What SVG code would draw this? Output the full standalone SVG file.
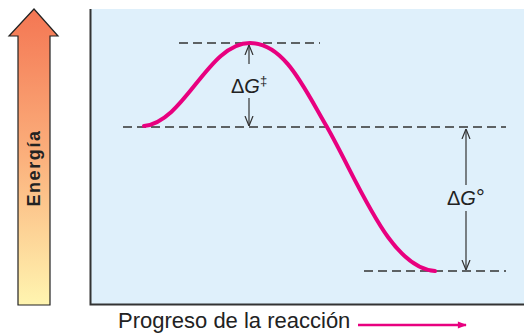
<svg xmlns="http://www.w3.org/2000/svg" width="524" height="335" viewBox="0 0 524 335">
<defs>
<linearGradient id="eg" x1="0" y1="0" x2="0" y2="1">
<stop offset="0" stop-color="#f47653"/>
<stop offset="0.5" stop-color="#fbb07c"/>
<stop offset="1" stop-color="#fff5b0"/>
</linearGradient>
<marker id="ah" viewBox="0 0 10 10" refX="10" refY="5" markerWidth="10" markerHeight="10" markerUnits="userSpaceOnUse" orient="auto">
<path d="M0,1 L10,5 L0,9" fill="none" stroke="#333" stroke-width="1.2"/>
</marker>
<marker id="ph" viewBox="0 0 10 10" refX="9" refY="5" markerWidth="12" markerHeight="9" markerUnits="userSpaceOnUse" orient="auto">
<path d="M0,1 L10,5 L0,9 Z" fill="#e8007f"/>
</marker>
</defs>
<style>
.dash{stroke:#333;stroke-width:1.4;stroke-dasharray:9,5;fill:none}
.lbl{font-family:"Liberation Sans",Arial,sans-serif;font-size:20px;fill:#222}
.dim{stroke:#333;stroke-width:1.2;fill:none}
</style>
<g id="axis-energy">
<path d="M18,305 L18,36 L9,36 L34,9 L58,36 L50,36 L50,305 Z" fill="url(#eg)" stroke="#222" stroke-width="1.2"/>
<text transform="translate(40,168) rotate(-90)" text-anchor="middle" font-family="Liberation Sans,Arial,sans-serif" font-weight="bold" font-size="18" fill="#222" letter-spacing="1.6">Energía</text>
</g>
<g id="panel">
<rect x="90" y="9" width="434" height="296" fill="#dff0fb"/>
<path d="M90.5,9 L90.5,304.5 L524,304.5" fill="none" stroke="#333" stroke-width="2"/>
</g>
<g id="levels">
<line class="dash" x1="179" y1="43" x2="320" y2="43"/>
<line class="dash" x1="123" y1="127" x2="506" y2="127"/>
<line class="dash" x1="364" y1="271" x2="506" y2="271"/>
</g>
<g id="curve">
<path d="M144,126 C185,122 208,43 250,43 C285,43 305,90 327,127 C360,185 390,268 435,271" fill="none" stroke="#e8007f" stroke-width="4" stroke-linecap="round"/>
</g>
<g id="connectors">
<line class="dim" x1="249" y1="64" x2="249" y2="45" marker-end="url(#ah)"/>
<line class="dim" x1="249" y1="98" x2="249" y2="126" marker-end="url(#ah)"/>
<line class="dim" x1="466" y1="185" x2="466" y2="129" marker-end="url(#ah)"/>
<line class="dim" x1="466" y1="211" x2="466" y2="270" marker-end="url(#ah)"/>
<line x1="358" y1="325" x2="466" y2="325" stroke="#e8007f" stroke-width="2.5" marker-end="url(#ph)"/>
</g>
<g id="dg-act">
<text class="lbl" x="231" y="93">Δ<tspan font-style="italic">G</tspan><tspan style="font-size:13px" dy="-8">‡</tspan></text>
</g>
<g id="dg-std">
<text class="lbl" x="447" y="205">Δ<tspan font-style="italic">G</tspan><tspan style="font-size:22px">°</tspan></text>
</g>
<g id="xlabel">
<text class="lbl" x="118" y="328" style="font-size:22px">Progreso de la reacción</text>
</g>
</svg>
